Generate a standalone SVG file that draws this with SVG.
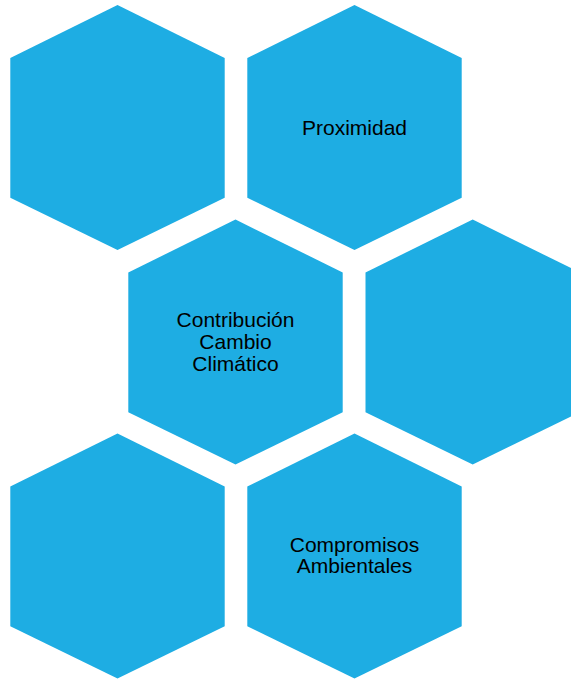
<svg xmlns="http://www.w3.org/2000/svg" width="571" height="680" viewBox="0 0 571 680">
<style>
.hex{fill:#1EADE3;}
.lbl{font-family:"Liberation Sans",Arial,sans-serif;font-size:21px;fill:#000;text-anchor:middle;}
</style>
<defs>
<polygon id="h" points="0,0 107.2,53 107.2,192.7 0,245 -107.2,192.7 -107.2,53"/>
</defs>
<rect width="571" height="680" fill="#fff"/>
<g id="hex1"><use href="#h" class="hex" x="117.5" y="5"/></g>
<g id="hex2"><use href="#h" class="hex" x="354.5" y="5"/><text class="lbl" x="354.5" y="135">Proximidad</text></g>
<g id="hex3"><use href="#h" class="hex" x="235.5" y="219.5"/><text class="lbl" x="235.5" y="326.7">Contribución</text><text class="lbl" x="235.5" y="348.7">Cambio</text><text class="lbl" x="235.5" y="370.7">Climático</text></g>
<g id="hex4"><use href="#h" class="hex" x="472.7" y="219.5"/></g>
<g id="hex5"><use href="#h" class="hex" x="117.5" y="433.5"/></g>
<g id="hex6"><use href="#h" class="hex" x="354.5" y="433.5"/><text class="lbl" x="354.5" y="551.7">Compromisos</text><text class="lbl" x="354.5" y="573.3">Ambientales</text></g>
<g id="connectors"></g>
</svg>
